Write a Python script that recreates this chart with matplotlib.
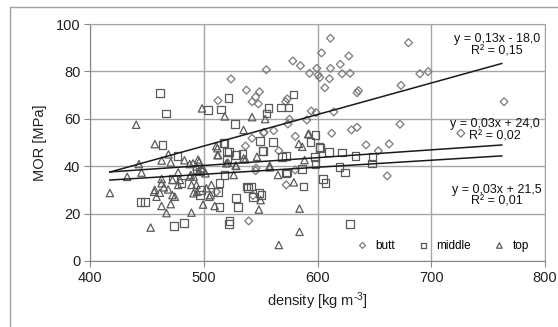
import numpy as np
import matplotlib
matplotlib.use("Agg")
import matplotlib.pyplot as plt
from matplotlib.lines import Line2D

plt.rcParams['font.family'] = ['Liberation Sans', 'DejaVu Sans']
plt.rcParams['mathtext.fontset'] = 'custom'
plt.rcParams['mathtext.rm'] = 'Liberation Sans'
plt.rcParams['mathtext.it'] = 'Liberation Sans'

# --- data: (density, MOR) ---
butt_x = [524, 537.5, 549, 545.6, 542.5, 548, 512.5, 555, 542.4, 553, 536.7, 546,
          611.4, 680, 603.5, 627.5, 578.3, 585, 620, 599.4, 611.4, 593, 621.6, 628.7,
          600.6, 602, 610.5, 606.4, 634.8, 636, 673.4, 690, 697.3, 764, 573.4, 572,
          594.5, 598.8, 614.3, 575.4, 590.6, 574, 629.8, 634.8, 672.5, 612.5, 552.6,
          561.5, 580.5, 726, 642.7, 663, 653.5, 566, 661.3, 545.6, 572.5, 580.4,
          539.5, 543.3, 511.1]
butt_y = [76.8, 72.1, 71.4, 69.2, 67.2, 66.3, 67.7, 80.7, 51.8, 54.3, 48.5, 39.2,
          94, 92.1, 87.8, 86.5, 84.4, 82.4, 83, 81.3, 81.3, 79.2, 79, 79.2,
          78.5, 77.4, 76.9, 73.1, 71, 71.9, 74.1, 79, 79.9, 67.2, 68.4, 67.2,
          63.3, 62.6, 62.9, 59.8, 59.5, 57.8, 55.3, 56.4, 57.7, 53.9, 54.1,
          55, 52.6, 53.9, 49, 49.4, 46.5, 46.5, 35.9, 38.1, 32.1, 38.4,
          16.9, 27.6, 29.2]

middle_x = [461.7, 467, 521.6, 503.8, 515, 527.5, 463.8, 477, 557, 555, 549.7, 560.8,
            517.5, 520.4, 534, 551.5, 579, 574.6, 568, 598.2, 601.8, 610, 621.3, 633.3,
            648.5, 648, 598, 598.2, 619.3, 572.5, 552, 569, 593.9, 602.4, 624.3, 573.4,
            586.2, 587.7, 604.7, 607, 541.8, 543.3, 549, 550.6, 628.5, 473, 480.4, 518.4,
            522.2, 520.4, 518.4, 514, 528.6, 537.5, 530, 522.8, 522.2, 444.5, 448.2, 474,
            482.5, 493.6, 496.5, 496.5, 497.4, 512.6, 514, 528.6, 538.9, 572.5]
middle_y = [70.8, 62.2, 68.8, 63.8, 64, 57.7, 49, 44.4, 64.6, 62.3, 50.6, 50.3,
            49.9, 46, 45.1, 46.5, 70.2, 64.7, 64.7, 53.2, 48.2, 46, 45.7, 44.2,
            44, 41.2, 43.8, 40.9, 39.7, 44.3, 46.5, 44, 50.1, 47.6, 37.3, 37.3,
            38.8, 31.4, 34.5, 33, 31.4, 27.1, 28.8, 27.8, 15.6, 34.6, 32.8, 49.7,
            46.1, 43.3, 36.3, 32.8, 44.7, 31.4, 22.9, 16.9, 15.5, 25, 25, 14.8,
            16, 38.7, 37.7, 27.8, 30, 29.2, 22.9, 26.5, 30.7, 37]

top_x = [440.6, 498.5, 518.5, 535, 457, 469, 463, 471, 483, 443, 490.6, 495, 512,
         512.6, 536.6, 546.8, 519.9, 528, 558, 542.5, 554, 583.6, 586.6, 591.8, 588.6,
         557.9, 565.2, 579.2, 550, 548.5, 584.2, 584.2, 566, 445.3, 432.7, 417.5, 477.5,
         462.9, 465, 463, 457, 461.4, 468.7, 472.5, 474.6, 471, 462.9, 467.2, 453.3,
         477.5, 479, 489.2, 487.7, 491.2, 493.6, 494.1, 499.4, 501.5, 506.7, 506, 509.6,
         511, 512, 521.3, 528.6, 526.3, 535, 493.6, 499.4, 495.9, 487.7, 502.3, 505,
         491, 472.5, 456.4, 458.5, 488.6, 495.9, 498, 489.2, 592.4]
top_y = [57.5, 64.4, 61, 55.3, 49.3, 45, 42.4, 41.6, 42.5, 40.9, 41.2, 42.8, 47.6,
         44.7, 42.9, 44, 41.2, 40.3, 40.2, 60.7, 59.9, 49.4, 48.2, 53.5, 42.6,
         39.5, 36.3, 33.2, 25.7, 21.7, 22.1, 12.3, 6.75, 37.3, 35.5, 28.7, 37.4,
         32.8, 31.1, 34.6, 30, 28.8, 30.2, 34.2, 27.1, 24, 23.2, 20.2, 14.1,
         32.1, 34.2, 20.4, 35.6, 35.6, 32.1, 29.2, 23.8, 37, 32.1, 27.8, 23.2,
         48.5, 44.7, 41.5, 40.1, 36.3, 43.3, 39.8, 39.1, 41.9, 40.9, 30.7, 27.1,
         28.6, 27.8, 29.2, 27.1, 36.3, 37.7, 39.1, 32.1, 53.7]

# linear trends (slope, intercept) and their fitted density range
trend_slope = [0.133, 0.033, 0.0296]
trend_icept = [-18.0, 23.8, 21.8]
trend_range = [417.5, 762]
eq_labels = ["y = 0,13x - 18,0\nR² = 0,15",
             "y = 0,03x + 24,0\nR² = 0,02",
             "y = 0,03x + 21,5\nR² = 0,01"]
eq_pos = [(758, 91.0), (756, 55.2), (758, 27.6)]

series_names = ['butt', 'middle', 'top']
series_markers = ['D', 's', '^']
series_colors = ['#7a7a7a', '#5a5a5a', '#5a5a5a']
series_sizes = [16, 30, 28]

fig = plt.figure(figsize=(5.58, 3.27), dpi=100)
ax = fig.add_axes([90 / 558, 1 - 261 / 327, 455 / 558, 237 / 327])

# outer chart frame
fig.add_artist(Line2D([10 / 558, 1.0], [1 - 7 / 327, 1 - 7 / 327], color='#a0a0a0', lw=1))
fig.add_artist(Line2D([10 / 558, 10 / 558], [0, 1 - 7 / 327], color='#a0a0a0', lw=1))

data = [(butt_x, butt_y), (middle_x, middle_y), (top_x, top_y)]
for (xs, ys), name, m, c, s in zip(data, series_names, series_markers,
                                   series_colors, series_sizes):
    ax.scatter(xs, ys, marker=m, s=s, facecolors='none', edgecolors=c,
               linewidths=0.9, label=name, zorder=3)

xt = np.array(trend_range)
for k, b in zip(trend_slope, trend_icept):
    ax.plot(xt, k * xt + b, color='#1a1a1a', lw=1.1, zorder=4)

for txt, (tx, ty) in zip(eq_labels, eq_pos):
    ax.text(tx, ty, txt, ha='center', va='center', multialignment='center',
            fontsize=9, color='#111111', linespacing=1.0, zorder=5)

ax.set_xlim(400, 800)
ax.set_ylim(0, 100)
ax.set_xticks([400, 500, 600, 700, 800])
ax.set_yticks([0, 20, 40, 60, 80, 100])
ax.grid(True, color='#a6a6a6', lw=1)
ax.set_axisbelow(True)
for sp in ax.spines.values():
    sp.set_color('#a6a6a6')
ax.spines['left'].set_color('#868686')
ax.spines['bottom'].set_color('#868686')
ax.tick_params(length=4, color='#868686', labelsize=10.5, labelcolor='#222222', pad=3)

ax.set_xlabel('density [kg m$^{\\text{-}3}$]', fontsize=10.5, color='#222222', labelpad=4)
ax.set_ylabel('MOR [MPa]', fontsize=10.5, color='#222222', labelpad=6)

ax.legend(loc='lower right', bbox_to_anchor=(0.985, 0.0), ncol=3, frameon=False,
          fontsize=8.5, markerscale=0.75, handletextpad=0.1, columnspacing=1.4,
          borderaxespad=0.4)

fig.savefig('out.png', dpi=100)
